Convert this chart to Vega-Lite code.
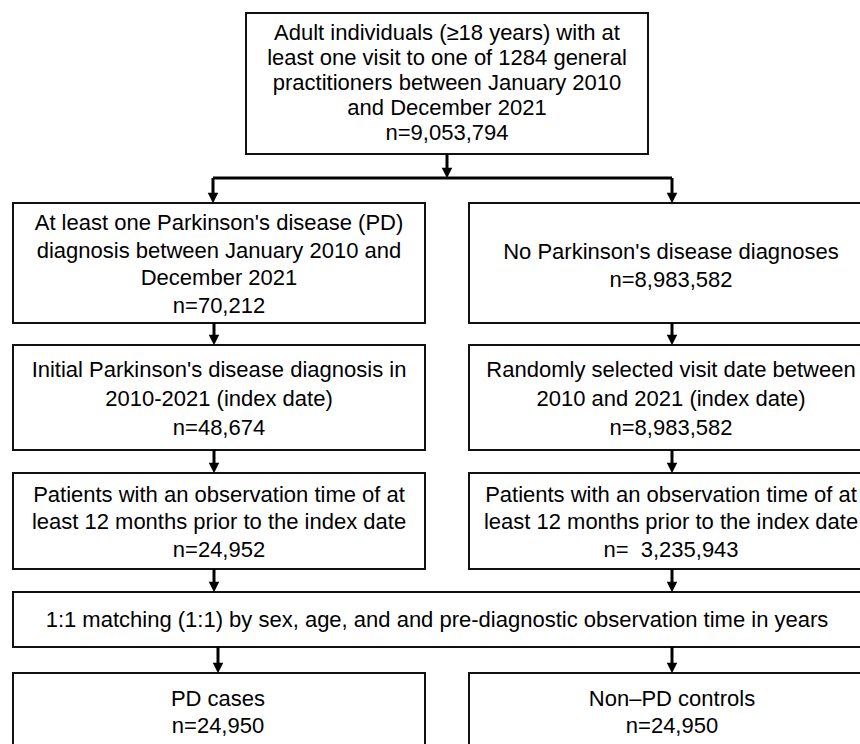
{
  "$schema": "https://vega.github.io/schema/vega-lite/v6.json",
  "width": 860,
  "height": 744,
  "autosize": {"type": "fit", "contains": "padding"},
  "padding": 0,
  "background": "white",
  "config": {"view": {"stroke": null}},
  "datasets": {
    "boxes": [
      {"id": "top", "x": 246, "x2": 648, "y": 13, "y2": 154},
      {"id": "L1", "x": 13, "x2": 425, "y": 203, "y2": 323},
      {"id": "R1", "x": 469, "x2": 873, "y": 203, "y2": 323},
      {"id": "L2", "x": 13, "x2": 425, "y": 345, "y2": 450},
      {"id": "R2", "x": 469, "x2": 873, "y": 345, "y2": 450},
      {"id": "L3", "x": 13, "x2": 425, "y": 473, "y2": 569},
      {"id": "R3", "x": 469, "x2": 873, "y": 473, "y2": 569},
      {"id": "M", "x": 13, "x2": 873, "y": 592, "y2": 647},
      {"id": "LF", "x": 13, "x2": 425, "y": 673, "y2": 780},
      {"id": "RF", "x": 469, "x2": 873, "y": 673, "y2": 780}
    ],
    "segments": [
      {"x": 447, "y": 154, "x2": 447, "y2": 174},
      {"x": 213, "y": 178, "x2": 672, "y2": 178},
      {"x": 213, "y": 178, "x2": 213, "y2": 199},
      {"x": 672, "y": 178, "x2": 672, "y2": 199},
      {"x": 214, "y": 323, "x2": 214, "y2": 341},
      {"x": 672, "y": 323, "x2": 672, "y2": 341},
      {"x": 214, "y": 450, "x2": 214, "y2": 469},
      {"x": 672, "y": 450, "x2": 672, "y2": 469},
      {"x": 214, "y": 569, "x2": 214, "y2": 588},
      {"x": 672, "y": 569, "x2": 672, "y2": 588},
      {"x": 218, "y": 647, "x2": 218, "y2": 669},
      {"x": 672, "y": 647, "x2": 672, "y2": 669}
    ],
    "heads": [
      {"x": 447, "y": 178},
      {"x": 213, "y": 203},
      {"x": 672, "y": 203},
      {"x": 214, "y": 345},
      {"x": 672, "y": 345},
      {"x": 214, "y": 473},
      {"x": 672, "y": 473},
      {"x": 214, "y": 592},
      {"x": 672, "y": 592},
      {"x": 218, "y": 673},
      {"x": 672, "y": 673}
    ],
    "texts": [
      {"x": 447, "y": 33, "t": "Adult individuals (≥18 years) with at"},
      {"x": 447, "y": 58, "t": "least one visit to one of 1284 general"},
      {"x": 447, "y": 83, "t": "practitioners between January 2010"},
      {"x": 447, "y": 108, "t": "and December 2021"},
      {"x": 447, "y": 133, "t": "n=9,053,794"},
      {"x": 219, "y": 223, "t": "At least one Parkinson's disease (PD)"},
      {"x": 219, "y": 251, "t": "diagnosis between January 2010 and"},
      {"x": 219, "y": 278, "t": "December 2021"},
      {"x": 219, "y": 306, "t": "n=70,212"},
      {"x": 671, "y": 252, "t": "No Parkinson's disease diagnoses"},
      {"x": 671, "y": 280, "t": "n=8,983,582"},
      {"x": 219, "y": 370, "t": "Initial Parkinson's disease diagnosis in"},
      {"x": 219, "y": 399, "t": "2010-2021 (index date)"},
      {"x": 219, "y": 428, "t": "n=48,674"},
      {"x": 671, "y": 370, "t": "Randomly selected visit date between"},
      {"x": 671, "y": 399, "t": "2010 and 2021 (index date)"},
      {"x": 671, "y": 428, "t": "n=8,983,582"},
      {"x": 219, "y": 495, "t": "Patients with an observation time of at"},
      {"x": 219, "y": 522, "t": "least 12 months prior to the index date"},
      {"x": 219, "y": 550, "t": "n=24,952"},
      {"x": 671, "y": 495, "t": "Patients with an observation time of at"},
      {"x": 671, "y": 522, "t": "least 12 months prior to the index date"},
      {"x": 671, "y": 550, "t": "n=\u00a0 3,235,943"},
      {"x": 437, "y": 620, "t": "1:1 matching (1:1) by sex, age, and and pre-diagnostic observation time in years"},
      {"x": 218, "y": 699, "t": "PD cases"},
      {"x": 218, "y": 726, "t": "n=24,950"},
      {"x": 672, "y": 699, "t": "Non–PD controls"},
      {"x": 672, "y": 726, "t": "n=24,950"}
    ]
  },
  "layer": [
    {
      "data": {"name": "boxes"},
      "mark": {"type": "rect", "fill": "white", "stroke": "#111", "strokeWidth": 2, "clip": true},
      "encoding": {
        "x": {"field": "x", "type": "quantitative", "scale": {"domain": [0, 860]}, "axis": null},
        "x2": {"field": "x2"},
        "y": {"field": "y", "type": "quantitative", "scale": {"domain": [0, 744], "reverse": true}, "axis": null},
        "y2": {"field": "y2"}
      }
    },
    {
      "data": {"name": "segments"},
      "mark": {"type": "rule", "stroke": "#000", "strokeWidth": 3, "strokeCap": "butt"},
      "encoding": {
        "x": {"field": "x", "type": "quantitative", "scale": {"domain": [0, 860]}, "axis": null},
        "x2": {"field": "x2"},
        "y": {"field": "y", "type": "quantitative", "scale": {"domain": [0, 744], "reverse": true}, "axis": null},
        "y2": {"field": "y2"}
      }
    },
    {
      "data": {"name": "heads"},
      "mark": {"type": "point", "shape": "M-1,-1L1,-1L0,1Z", "filled": true, "fill": "#000", "stroke": null, "size": 110, "opacity": 1, "yOffset": -5},
      "encoding": {
        "x": {"field": "x", "type": "quantitative", "scale": {"domain": [0, 860]}, "axis": null},
        "y": {"field": "y", "type": "quantitative", "scale": {"domain": [0, 744], "reverse": true}, "axis": null}
      }
    },
    {
      "data": {"name": "texts"},
      "mark": {"type": "text", "font": "Liberation Sans", "fontSize": 22, "color": "#000", "align": "center", "baseline": "middle"},
      "encoding": {
        "x": {"field": "x", "type": "quantitative", "scale": {"domain": [0, 860]}, "axis": null},
        "y": {"field": "y", "type": "quantitative", "scale": {"domain": [0, 744], "reverse": true}, "axis": null},
        "text": {"field": "t"}
      }
    }
  ]
}
